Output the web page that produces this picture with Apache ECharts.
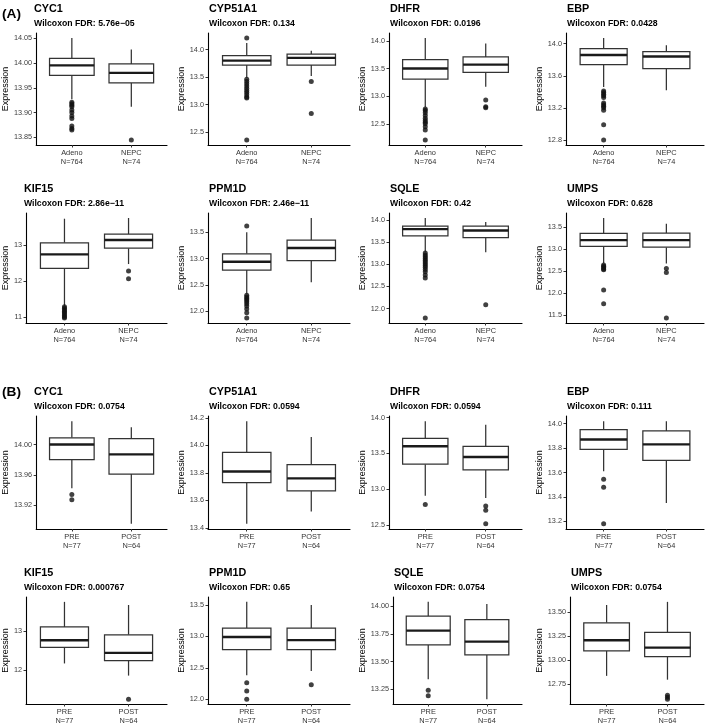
<!DOCTYPE html>
<html>
<head>
<meta charset="utf-8">
<script src="https://cdn.jsdelivr.net/npm/echarts@6/dist/echarts.min.js"></script>
<style>
  html, body { margin: 0; padding: 0; background: #fff; }
  #chart { width: 709px; height: 726px; }
</style>
</head>
<body>
<div id="chart"></div>
<script>
const genes = ['CYC1', 'CYP51A1', 'DHFR', 'EBP', 'KIF15', 'PPM1D', 'SQLE', 'UMPS'];

// (A) Adeno vs NEPC  -- boxes are [lower whisker, Q1, median, Q3, upper whisker]
const groupsA = ['Adeno\nN=764', 'NEPC\nN=74'];
const fdrA = ['5.76e\u221205', '0.134', '0.0196', '0.0428', '2.86e\u221211', '2.46e\u221211', '0.42', '0.628'];
const adenoBox = [
  [13.927, 13.975, 13.995, 14.009, 14.05],
  [13.49, 13.72, 13.80, 13.89, 14.12],
  [12.80, 13.31, 13.50, 13.66, 14.05],
  [13.46, 13.74, 13.86, 13.94, 14.07],
  [11.31, 12.35, 12.74, 13.06, 13.73],
  [12.33, 12.78, 12.94, 13.09, 13.50],
  [13.28, 13.64, 13.79, 13.86, 14.04],
  [12.68, 13.06, 13.20, 13.35, 13.70]
];
const nepcBox = [
  [13.912, 13.96, 13.98, 13.998, 14.027],
  [13.52, 13.72, 13.85, 13.92, 13.98],
  [13.17, 13.43, 13.57, 13.71, 13.95],
  [13.42, 13.69, 13.84, 13.90, 13.98],
  [12.47, 12.91, 13.14, 13.30, 13.75],
  [12.55, 12.96, 13.20, 13.35, 13.77],
  [13.27, 13.60, 13.76, 13.86, 13.95],
  [12.67, 13.04, 13.20, 13.36, 13.57]
];
const adenoOut = [
  [13.921, 13.918, 13.915, 13.912, 13.905, 13.900, 13.893, 13.888, 13.873, 13.868, 13.865],
  [14.21, 13.46, 13.42, 13.38, 13.34, 13.30, 13.26, 13.22, 13.18, 13.14, 13.12, 12.36],
  [12.77, 12.74, 12.70, 12.65, 12.60, 12.56, 12.53, 12.50, 12.45, 12.39, 12.21],
  [13.41, 13.39, 13.37, 13.35, 13.33, 13.26, 13.24, 13.22, 13.20, 13.17, 12.99, 12.80],
  [11.28, 11.24, 11.20, 11.16, 11.12, 11.08, 11.04, 11.00, 10.97],
  [13.62, 12.30, 12.27, 12.24, 12.21, 12.18, 12.14, 12.10, 12.04, 11.97, 11.87],
  [13.25, 13.21, 13.17, 13.13, 13.09, 13.05, 13.01, 12.97, 12.93, 12.88, 12.83, 12.76, 12.69, 11.79],
  [12.64, 12.61, 12.58, 12.55, 12.53, 12.07, 11.76]
];
const nepcOut = [
  [13.845], [13.42, 12.84], [12.93, 12.81, 12.79], [], [12.28, 12.06], [], [12.09], [12.56, 12.47, 11.44]
];
const ticksA = [
  ['13.85', '13.90', '13.95', '14.00', '14.05'],
  ['12.5', '13.0', '13.5', '14.0'],
  ['12.5', '13.0', '13.5', '14.0'],
  ['12.8', '13.2', '13.6', '14.0'],
  ['11', '12', '13'],
  ['12.0', '12.5', '13.0', '13.5'],
  ['12.0', '12.5', '13.0', '13.5', '14.0'],
  ['11.5', '12.0', '12.5', '13.0', '13.5']
];

// (B) PRE vs POST
const groupsB = ['PRE\nN=77', 'POST\nN=64'];
const fdrB = ['0.0754', '0.0594', '0.0594', '0.111', '0.000767', '0.65', '0.0754', '0.0754'];
const preBox = [
  [13.942, 13.98, 14.0, 14.009, 14.031],
  [13.43, 13.73, 13.81, 13.95, 14.176],
  [12.91, 13.35, 13.60, 13.71, 13.95],
  [13.61, 13.79, 13.87, 13.95, 14.02],
  [12.17, 12.58, 12.76, 13.10, 13.74],
  [12.38, 12.79, 12.99, 13.13, 13.55],
  [13.34, 13.65, 13.78, 13.91, 14.04],
  [12.834, 13.097, 13.207, 13.39, 13.577]
];
const postBox = [
  [13.895, 13.961, 13.987, 14.008, 14.023],
  [13.52, 13.67, 13.76, 13.86, 14.06],
  [12.88, 13.27, 13.45, 13.60, 13.90],
  [13.35, 13.70, 13.83, 13.94, 14.02],
  [11.86, 12.24, 12.44, 12.90, 13.66],
  [12.45, 12.79, 12.94, 13.13, 13.50],
  [13.16, 13.56, 13.68, 13.88, 14.02],
  [12.794, 13.037, 13.13, 13.29, 13.61]
];
const preOut = [
  [13.934, 13.927], [], [12.79], [13.545, 13.48, 13.18], [], [12.26, 12.13, 12.0], [13.24, 13.19], []
];
const postOut = [
  [], [], [12.77, 12.71, 12.52], [], [11.26], [12.23], [], [12.63, 12.61, 12.59]
];
const ticksB = [
  ['13.92', '13.96', '14.00'],
  ['13.4', '13.6', '13.8', '14.0', '14.2'],
  ['12.5', '13.0', '13.5', '14.0'],
  ['13.2', '13.4', '13.6', '13.8', '14.0'],
  ['12', '13'],
  ['12.0', '12.5', '13.0', '13.5'],
  ['13.25', '13.50', '13.75', '14.00'],
  ['12.75', '13.00', '13.25', '13.50']
];

// layout
const FONT = '"Liberation Sans", Arial, Helvetica, sans-serif';
const colBase = [29, 208, 389, 566];   // y axis x when tick labels are like "14.0"
const colRight = [167, 350, 522, 704];
const rowTop = [33, 213, 416, 597];
const rowBottom = [145, 323, 529, 707];

function labelWidth(s) {
  return s.replace('.', '').length * 4.06 + (s.indexOf('.') >= 0 ? 2.03 : 0);
}

const grids = [], xAxes = [], yAxes = [], series = [];
const titles = [
  { text: '(A)', left: 2, top: 6, padding: 0,
    textStyle: { fontFamily: FONT, fontSize: 13.7, fontWeight: 'bold', color: '#000', lineHeight: 16 } },
  { text: '(B)', left: 2, top: 384, padding: 0,
    textStyle: { fontFamily: FONT, fontSize: 13.7, fontWeight: 'bold', color: '#000', lineHeight: 16 } }
];

function renderBox(params, api) {
  const x = api.value(0);
  const lo = api.coord([x, api.value(1)]);
  const q1 = api.coord([x, api.value(2)]);
  const md = api.coord([x, api.value(3)]);
  const q3 = api.coord([x, api.value(4)]);
  const hi = api.coord([x, api.value(5)]);
  const half = api.size([0.75, 0])[0] / 2;
  const ls = { stroke: '#333', lineWidth: 1.25 };
  return {
    type: 'group',
    children: [
      { type: 'line', shape: { x1: hi[0], y1: hi[1], x2: q3[0], y2: q3[1] }, style: ls },
      { type: 'line', shape: { x1: lo[0], y1: lo[1], x2: q1[0], y2: q1[1] }, style: ls },
      { type: 'rect', shape: { x: q3[0] - half, y: q3[1], width: half * 2, height: q1[1] - q3[1] },
        style: { fill: '#fff', stroke: '#333', lineWidth: 1.25 } },
      { type: 'line', shape: { x1: md[0] - half, y1: md[1], x2: md[0] + half, y2: md[1] },
        style: { stroke: '#1a1a1a', lineWidth: 2.4 } }
    ]
  };
}

function addPanel(row, col, gene, fdr, groups, boxes, outs, ticks) {
  const i = grids.length;
  const tickVals = ticks.map(Number);
  const lw = Math.max(...ticks.map(labelWidth));
  const left = colBase[col] + lw - 14.2;
  const top = rowTop[row];

  const all = boxes.flat().concat(outs.flat());
  const lo = Math.min(...all), hi = Math.max(...all);
  const pad = (hi - lo) * 0.05;

  grids.push({ left: left, top: top, width: colRight[col] - left, height: rowBottom[row] - top });

  xAxes.push({
    type: 'value', gridIndex: i, min: 0.4, max: 2.6,
    axisLine: { show: true, lineStyle: { color: '#000', width: 1.1 } },
    axisTick: { show: true, customValues: [1, 2], length: 2.5, lineStyle: { color: '#333' } },
    axisLabel: {
      customValues: [1, 2], formatter: v => groups[Math.round(v) - 1],
      fontFamily: FONT, fontSize: 7.4, lineHeight: 9.5, color: '#333', margin: 3
    },
    splitLine: { show: false }
  });

  yAxes.push({
    type: 'value', gridIndex: i, min: lo - pad, max: hi + pad,
    axisLine: { show: true, lineStyle: { color: '#000', width: 1.1 } },
    axisTick: { show: true, customValues: tickVals, length: 2.5, lineStyle: { color: '#333' } },
    axisLabel: {
      customValues: tickVals,
      formatter: v => ticks[tickVals.findIndex(t => Math.abs(t - v) < 1e-9)],
      fontFamily: FONT, fontSize: 7.3, color: '#404040', margin: 4
    },
    splitLine: { show: false },
    name: 'Expression', nameLocation: 'middle', nameGap: lw + 5,
    nameTextStyle: { fontFamily: FONT, fontSize: 9, color: '#000' }
  });

  titles.push({
    text: gene, subtext: 'Wilcoxon FDR: ' + fdr,
    left: left + 1, top: top - 29.5, padding: 0, itemGap: 3,
    textStyle: { fontFamily: FONT, fontSize: 10.8, fontWeight: 'bold', color: '#000', lineHeight: 12 },
    subtextStyle: { fontFamily: FONT, fontSize: 8.7, fontWeight: 'bold', color: '#000', lineHeight: 10 }
  });

  series.push({
    type: 'custom', xAxisIndex: i, yAxisIndex: i,
    renderItem: renderBox,
    data: [[1].concat(boxes[0]), [2].concat(boxes[1])],
    silent: true
  });
  series.push({
    type: 'scatter', xAxisIndex: i, yAxisIndex: i,
    symbolSize: 5,
    itemStyle: { color: '#111' },
    data: outs[0].map(v => [1, v]).concat(outs[1].map(v => [2, v])),
    silent: true, z: 3
  });
}

genes.forEach((g, k) => {
  const row = k < 4 ? 0 : 1, col = k % 4;
  addPanel(row, col, g, fdrA[k], groupsA, [adenoBox[k], nepcBox[k]], [adenoOut[k], nepcOut[k]], ticksA[k]);
});
genes.forEach((g, k) => {
  const row = k < 4 ? 2 : 3, col = k % 4;
  addPanel(row, col, g, fdrB[k], groupsB, [preBox[k], postBox[k]], [preOut[k], postOut[k]], ticksB[k]);
});

const chart = echarts.init(document.getElementById('chart'), null, { renderer: 'canvas' });
chart.setOption({
  backgroundColor: '#fff',
  animation: false,
  title: titles,
  grid: grids,
  xAxis: xAxes,
  yAxis: yAxes,
  series: series
});
</script>
</body>
</html>
